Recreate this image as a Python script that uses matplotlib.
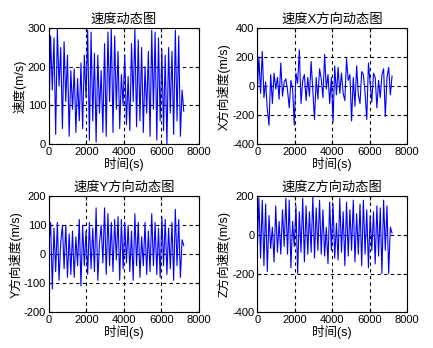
import numpy as np
import matplotlib.pyplot as plt

plt.rcParams['font.family'] = ['Liberation Sans', 'Noto Sans CJK SC']
plt.rcParams['axes.unicode_minus'] = False

# speed magnitude and its three components, one sample every 90 s
speed = [60, 280, 140, 275, 25, 300, 150, 250, 40, 265,
         110, 230, 20, 190, 90, 195, 30, 170, 60, 210,
         40, 230, 120, 295, 10, 290, 60, 235, 5, 230,
         80, 190, 30, 260, 20, 290, 110, 300, 30, 280,
         90, 240, 40, 180, 100, 230, 50, 175, 35, 260,
         110, 300, 45, 270, 60, 250, 30, 200, 80, 240,
         20, 295, 90, 290, 10, 275, 60, 245, 35, 230,
         0, 250, 80, 240, 25, 295, 60, 280, 20, 140, 85]
vx = [-60, 200, -50, 240, -80, 30, -160, -270, 80, -120,
      90, -20, 60, -90, 160, -70, 30, 50, -30, -150,
      40, -20, -270, 90, 20, 250, -120, 40, 80, -100,
      60, -70, 170, -30, -230, 60, -90, 120, 50, -80,
      220, -20, 80, -120, 60, -250, 140, -60, 130, -50,
      90, -50, -100, 190, 40, 80, -240, 60, -140, 140,
      -60, -120, 100, 80, -50, -230, 160, 20, -110, 90,
      60, -150, 40, -80, 80, 120, -210, 60, 130, -60, 70]
vy = [30, 110, -120, 90, -60, 110, -90, 40, 100, -50,
      100, -80, 70, -70, 80, -80, 60, -40, 120, -110,
      100, -40, 80, -70, 110, -50, 90, -60, 160, -90,
      40, 100, -30, 160, -70, 140, -40, 110, -60, 120,
      -20, 130, -90, 120, -50, 110, -30, 100, -60, 80,
      -90, 140, -40, 110, -80, 60, -40, 110, -70, 80,
      -60, 140, -40, 110, -70, 90, -80, 130, -40, 120,
      -70, 90, -50, 110, -90, 155, -40, 120, -80, 50, 30]
vz = [-100, 190, -120, 180, -160, 160, -190, 100, -70, 40,
      -140, 150, -90, 70, -100, 130, -60, 190, -100, 180,
      -170, 70, -60, 150, -200, 120, -90, 190, -140, 150,
      -100, 120, -90, 200, -120, 140, -80, 180, -100, 130,
      -110, 40, -150, 170, -80, 160, -120, 60, -130, 190,
      -90, 120, -160, 170, -110, 130, -80, 180, -140, 110,
      -100, 160, -160, 180, -100, 130, -170, 100, -80, 120,
      -150, 150, -110, 140, -200, 180, -80, 150, -200, 40, 10]

titles = ['速度动态图', '速度X方向动态图', '速度Y方向动态图', '速度Z方向动态图']
ylabels = ['速度(m/s)', 'X方向速度(m/s)', 'Y方向速度(m/s)', 'Z方向速度(m/s)']
ylims = [(0, 300), (-400, 400), (-200, 200), (-400, 200)]
ysteps = [100, 200, 100, 200]
xticks = [0, 2000, 4000, 6000, 8000]

fig = plt.figure(figsize=(4.33, 3.48), dpi=100)
pos = [[0.113, 0.586, 0.346, 0.333], [0.594, 0.586, 0.346, 0.333],
       [0.113, 0.103, 0.346, 0.333], [0.594, 0.103, 0.346, 0.333]]

for i, y in enumerate([speed, vx, vy, vz]):
    ax = fig.add_axes(pos[i])
    t = np.linspace(0, 7200, len(y))
    ax.plot(t, y, color='blue', lw=0.8)
    ax.set_xlim(0, 8000)
    ax.set_ylim(*ylims[i])
    ax.set_xticks(xticks)
    ax.set_yticks(np.arange(ylims[i][0], ylims[i][1] + 1, ysteps[i]))
    ax.grid(True, color='black', ls=(0, (3, 3)), lw=0.8)
    ax.tick_params(direction='in', top=True, right=True, length=3, labelsize=8, pad=2)
    for s in ax.spines.values():
        s.set_linewidth(0.8)
    ax.set_title(titles[i], fontsize=9.5, pad=4)
    ax.set_xlabel('时间(s)', fontsize=9, labelpad=0)
    ax.set_ylabel(ylabels[i], fontsize=9, labelpad=1)

fig.savefig('out.png')
